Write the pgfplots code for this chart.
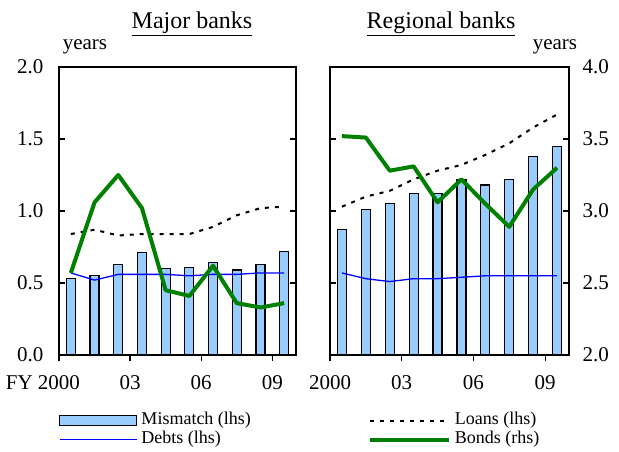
\documentclass[border=0pt]{standalone}
\usepackage{pgfplots}
\usepackage{pgfplotstable}
\pgfplotsset{compat=1.18}
\usepackage{fontspec}
\setmainfont{Liberation Serif}

\definecolor{barblue}{RGB}{153,204,255}
\definecolor{bondgreen}{RGB}{0,128,0}

% major banks
\pgfplotstableread{
year mis  loans debts bonds
2000 0.53 0.84  0.57  2.57
2001 0.55 0.87  0.52  3.06
2002 0.63 0.83  0.56  3.25
2003 0.71 0.84  0.56  3.02
2004 0.60 0.84  0.56  2.45
2005 0.61 0.84  0.55  2.41
2006 0.64 0.89  0.56  2.62
2007 0.59 0.97  0.56  2.36
2008 0.63 1.02  0.57  2.33
2009 0.72 1.03  0.57  2.36
}\major

% regional banks
\pgfplotstableread{
year mis  loans debts bonds
2000 0.87 1.03  0.57  3.52
2001 1.01 1.10  0.53  3.51
2002 1.05 1.14  0.51  3.28
2003 1.12 1.22  0.53  3.31
2004 1.12 1.28  0.53  3.06
2005 1.22 1.32  0.54  3.22
2006 1.18 1.39  0.55  3.05
2007 1.22 1.47  0.55  2.89
2008 1.38 1.58  0.55  3.15
2009 1.45 1.67  0.55  3.30
}\regional

\tikzset{
  loanline/.style={black, line width=2pt, dash pattern=on 4pt off 6pt},
  debtline/.style={blue, line width=1.3pt},
  bondline/.style={bondgreen, line width=4pt, line join=round},
}

\pgfplotsset{
  panel/.style={
    scale only axis, height=288pt,
    xmin=1999.5, xmax=2009.5, ymin=0, ymax=2,
    axis line style={line width=1.2pt},
    tick style={line width=1.2pt, black},
    major tick length=6pt,
    xtick={1999.5,2002.5,2005.5,2008.5},
    xtick align=outside, ytick align=inside,
    xtick pos=left, ytick pos=both,
    ytick={0,0.5,1,1.5,2},
    ticklabel style={font=\fontsize{21}{23}\selectfont},
    xticklabel style={yshift=-11pt},
  },
  rhs/.style={
    scale only axis, height=288pt,
    xmin=1999.5, xmax=2009.5, ymin=2, ymax=4,
  },
  bars/.style={ybar, bar width=9pt, fill=barblue, draw=black, line width=1.2pt},
}

\begin{document}
\begin{tikzpicture}[font=\fontsize{21}{23}\selectfont]
\useasboundingbox (0pt,0pt) rectangle (619pt,451pt);

% left panel
\begin{axis}[panel, width=237pt, at={(59pt,96pt)}, anchor=south west,
    xticklabels={\llap{FY }2000,03,06,09},
    yticklabels={0.0,0.5,1.0,1.5,2.0},
    yticklabel style={xshift=-12pt},
    legend style={at={(0,-0.198)}, anchor=north west, draw=none, fill=none,
      legend columns=2, inner sep=0pt, row sep=2pt,
      nodes={inner ysep=0pt, inner xsep=4pt, text height=12pt, text depth=5pt,
        font=\fontsize{18}{20}\selectfont},
      /tikz/every even column/.append style={column sep=113pt}},
    legend cell align=left]
\addlegendimage{legend image code/.code={\draw[fill=barblue,draw=black,line width=1.2pt] (0pt,-5pt) rectangle (77pt,5pt);}}
\addlegendentry{Mismatch (lhs)}
\addlegendimage{legend image code/.code={\draw[loanline] (0pt,0pt) -- (77pt,0pt);}}
\addlegendentry{Loans (lhs)}
\addlegendimage{legend image code/.code={\draw[debtline] (0pt,0pt) -- (77pt,0pt);}}
\addlegendentry{Debts (lhs)}
\addlegendimage{legend image code/.code={\draw[bondline] (0pt,0pt) -- (79pt,0pt);}}
\addlegendentry{Bonds (rhs)}
\addplot[bars, forget plot] table[x=year, y=mis] {\major};
\addplot[loanline, forget plot] table[x=year, y=loans] {\major};
\addplot[debtline, forget plot] table[x=year, y=debts] {\major};
\end{axis}
\begin{axis}[rhs, width=237pt, at={(59pt,96pt)}, anchor=south west, hide axis]
\addplot[bondline] table[x=year, y=bonds] {\major};
\end{axis}

% right panel
\begin{axis}[panel, width=239pt, at={(330pt,96pt)}, anchor=south west,
    xticklabels={2000,03,06,09},
    yticklabels={}]
\addplot[bars] table[x=year, y=mis] {\regional};
\addplot[loanline] table[x=year, y=loans] {\regional};
\addplot[debtline] table[x=year, y=debts] {\regional};
\end{axis}
\begin{axis}[rhs, width=239pt, at={(330pt,96pt)}, anchor=south west,
    axis x line=none, axis y line*=right,
    axis line style={line width=1.2pt},
    tick style={line width=1.2pt, black},
    major tick length=6pt, ytick align=inside,
    ytick={2,2.5,3,3.5,4},
    yticklabels={2.0,2.5,3.0,3.5,4.0},
    yticklabel style={xshift=10pt, font=\fontsize{21}{23}\selectfont}]
\addplot[bondline] table[x=year, y=bonds] {\regional};
\end{axis}

% titles and units
\node[font=\fontsize{24}{26}\selectfont] at (192pt,427pt) {\underline{Major banks}};
\node[font=\fontsize{24}{26}\selectfont] at (441pt,427pt) {\underline{Regional banks}};
\node at (85pt,404pt) {years};
\node at (555pt,404pt) {years};
\end{tikzpicture}
\end{document}
